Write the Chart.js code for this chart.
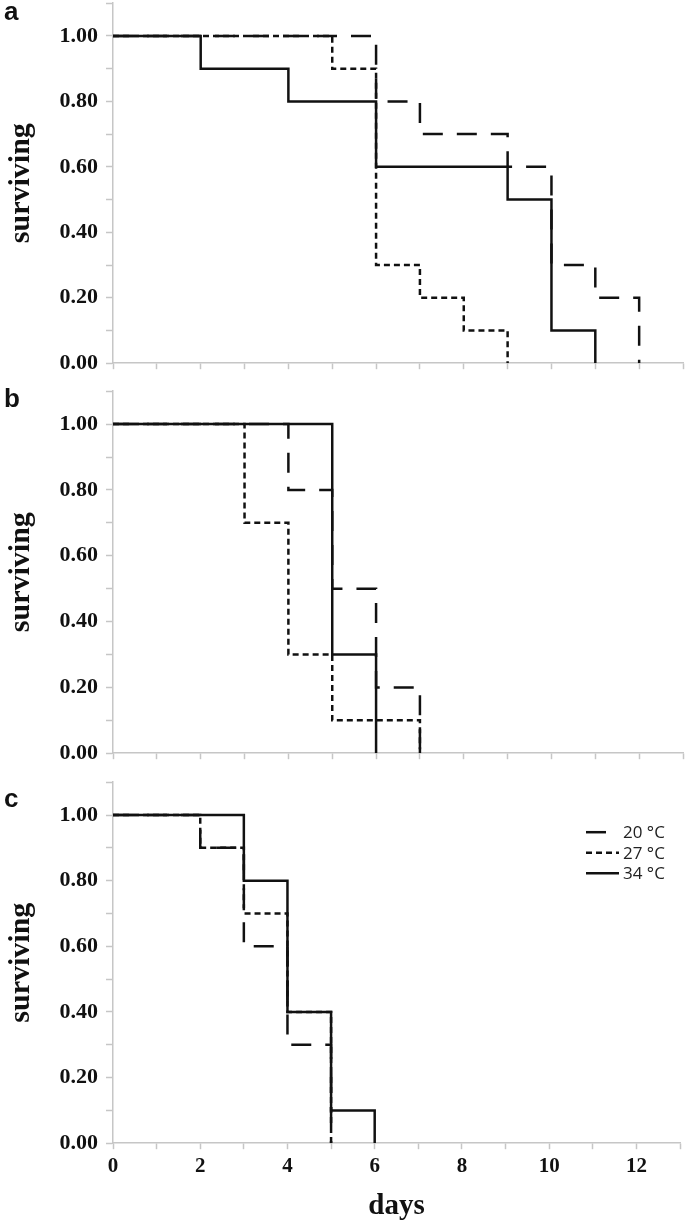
<!DOCTYPE html>
<html>
<head>
<meta charset="utf-8">
<title>surviving vs days</title>
<script src="https://cdn.jsdelivr.net/npm/chart.js@4/dist/chart.umd.min.js"></script>
<style>
  html, body { margin: 0; padding: 0; background: #fff; }
  body { position: relative; width: 685px; height: 1224px; overflow: hidden; }
  .panel { position: absolute; left: 0; width: 685px; }
  .letter { position: absolute; left: 4px; font: bold 26px "Liberation Sans", Arial, sans-serif; line-height: 26px; color: #111; }
</style>
</head>
<body>
<div class="panel" id="wrap-a" style="height:400px"><canvas id="chart-a"></canvas></div>
<div class="panel" id="wrap-b" style="height:400px"><canvas id="chart-b"></canvas></div>
<div class="panel" id="wrap-c" style="height:450px"><canvas id="chart-c"></canvas></div>
<div class="letter" style="top:-2px">a</div>
<div class="letter" style="top:385px">b</div>
<div class="letter" style="top:785px">c</div>

<script>
/* ---- data: Kaplan-Meier steps ---- */
const seriesLabels = ['20 °C', '27 °C', '34 °C'];

// panel a
const a20Days = [0, 6, 7, 9, 10, 11, 12];
const a20Surv = [1.0, 0.8, 0.7, 0.6, 0.3, 0.2, 0.0];
const a27Days = [0, 5, 6, 7, 8, 9];
const a27Surv = [1.0, 0.9, 0.3, 0.2, 0.1, 0.0];
const a34Days = [0, 2, 4, 6, 9, 10, 11];
const a34Surv = [1.0, 0.9, 0.8, 0.6, 0.5, 0.1, 0.0];

// panel b
const b20Days = [0, 4, 5, 6, 7];
const b20Surv = [1.0, 0.8, 0.5, 0.2, 0.0];
const b27Days = [0, 3, 4, 5, 7];
const b27Surv = [1.0, 0.7, 0.3, 0.1, 0.0];
const b34Days = [0, 5, 6];
const b34Surv = [1.0, 0.3, 0.0];

// panel c
const c20Days = [0, 2, 3, 4, 5];
const c20Surv = [1.0, 0.9, 0.6, 0.3, 0.0];
const c27Days = [0, 2, 3, 4, 5];
const c27Surv = [1.0, 0.9, 0.7, 0.4, 0.0];
const c34Days = [0, 3, 4, 5, 6];
const c34Surv = [1.0, 0.8, 0.4, 0.1, 0.0];

// tick labels
const xTickLabels = [0, 2, 4, 6, 8, 10, 12];
const yTickLabels = ['0.00', '0.20', '0.40', '0.60', '0.80', '1.00'];

/* ---- styles ---- */
const INK = '#111';
const AXIS = '#c6c6c6';
const SERIF = '"Liberation Serif", "Times New Roman", serif';
const DASHES = [[20, 14], [6, 4], []];

function pts(days, surv) {
  return days.map((d, i) => ({ x: d, y: surv[i] }));
}

function makeDatasets(list) {
  return list.map(([days, surv], i) => ({
    label: seriesLabels[i],
    data: pts(days, surv),
    stepped: 'before',   // hold the value, then drop at the next day
    borderColor: INK,
    borderWidth: 2.5,
    borderDash: DASHES[i],
    borderCapStyle: 'butt',
    pointRadius: 0,
    fill: false,
  }));
}

// legend drawn inside the chart area (panel c only)
const tempLegend = {
  id: 'tempLegend',
  afterDatasetsDraw(chart) {
    const { ctx, chartArea } = chart;
    const x0 = chartArea.right - 94, x1 = chartArea.right - 61;
    ctx.save();
    chart.data.datasets.forEach((ds, i) => {
      const y = chartArea.top + 50 + i * 20.5;
      ctx.beginPath();
      ctx.setLineDash(ds.borderDash);
      ctx.lineWidth = 2.5;
      ctx.strokeStyle = INK;
      ctx.moveTo(x0, y);
      ctx.lineTo(x1, y);
      ctx.stroke();
      ctx.setLineDash([]);
      ctx.fillStyle = '#222';
      ctx.font = '17px "Open Sans", sans-serif';
      ctx.textBaseline = 'middle';
      ctx.fillText(ds.label, x1 + 4, y + 1);
    });
    ctx.restore();
  }
};

function makePanel(canvasId, datasets, showX) {
  return new Chart(document.getElementById(canvasId), {
    type: 'line',
    data: { datasets },
    plugins: showX ? [tempLegend] : [],
    options: {
      responsive: true,
      maintainAspectRatio: false,
      animation: false,
      layout: { padding: { left: 0, right: 2, top: 0, bottom: 0 } },
      plugins: { legend: { display: false }, tooltip: { enabled: false } },
      scales: {
        x: {
          type: 'linear',
          min: 0,
          max: 13,
          border: { color: AXIS, width: 1.5 },
          grid: { drawOnChartArea: false, color: AXIS, tickLength: 6, tickWidth: 1.5 },
          ticks: {
            display: showX,
            stepSize: 1,
            autoSkip: false,
            maxRotation: 0,
            padding: 5,
            color: INK,
            font: { family: SERIF, size: 21, weight: 'bold' },
            callback: (v) => (xTickLabels.includes(v) ? String(v) : ''),
          },
          title: {
            display: showX,
            text: 'days',
            color: INK,
            padding: { top: 0, bottom: 0 },
            font: { family: SERIF, size: 29, weight: 'bold' },
          },
          afterFit: (s) => { s.height = showX ? 81 : 24; },
        },
        y: {
          min: 0,
          max: 1.1,
          border: { color: AXIS, width: 1.5 },
          grid: { drawOnChartArea: false, color: AXIS, tickLength: 7, tickWidth: 1.5 },
          ticks: {
            stepSize: 0.1,
            padding: 8,
            color: INK,
            font: { family: SERIF, size: 22, weight: 'bold' },
            callback: (v) => {
              const k = Math.round(v * 10);
              return k <= 10 && k % 2 === 0 ? yTickLabels[k / 2] : '';
            },
          },
          title: {
            display: true,
            text: 'surviving',
            color: INK,
            padding: { top: 3, bottom: 0 },
            font: { family: SERIF, size: 30, weight: 'bold' },
          },
          afterFit: (s) => { s.width = 113; },
        },
      },
    },
  });
}

// put the chart area of each panel where it sits in the figure
function place(chart, wrapId, top, bottom) {
  const wrap = document.getElementById(wrapId);
  const area = chart.chartArea;
  wrap.style.height = (wrap.clientHeight + (bottom - top) - (area.bottom - area.top)) + 'px';
  chart.resize();
  wrap.style.top = (top - chart.chartArea.top) + 'px';
}

const chartA = makePanel('chart-a', makeDatasets([[a20Days, a20Surv], [a27Days, a27Surv], [a34Days, a34Surv]]), false);
const chartB = makePanel('chart-b', makeDatasets([[b20Days, b20Surv], [b27Days, b27Surv], [b34Days, b34Surv]]), false);
const chartC = makePanel('chart-c', makeDatasets([[c20Days, c20Surv], [c27Days, c27Surv], [c34Days, c34Surv]]), true);

place(chartA, 'wrap-a', 3, 363);
place(chartB, 'wrap-b', 391, 753);
place(chartC, 'wrap-c', 782, 1143);
</script>
</body>
</html>
